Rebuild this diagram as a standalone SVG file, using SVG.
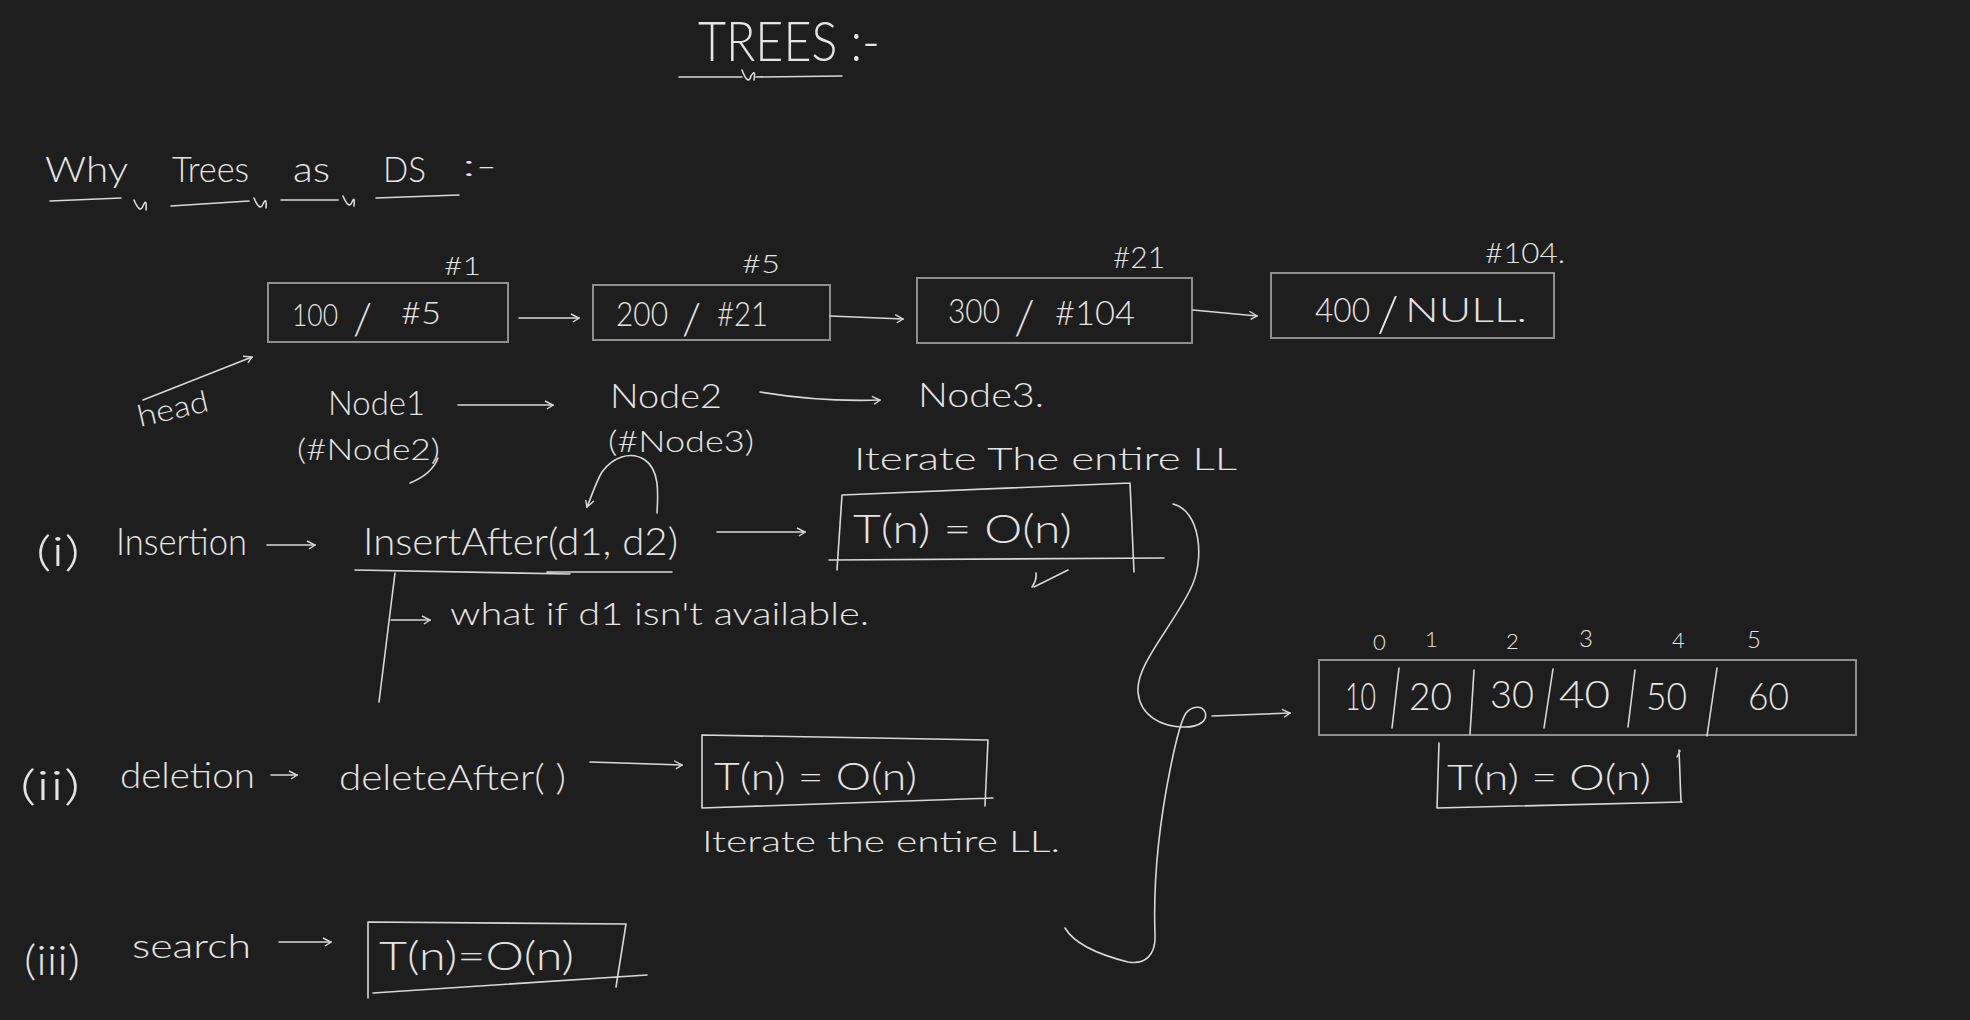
<svg xmlns="http://www.w3.org/2000/svg" width="1970" height="1020" viewBox="0 0 1970 1020">
<defs>
<style>
text{font-family:"Lato","Liberation Sans",sans-serif;font-weight:300;fill:#e4e4e4;}
.s{fill:none;stroke:#d8d8d8;stroke-width:1.6;stroke-linecap:round;stroke-linejoin:round;}
.bx{fill:none;stroke:#8f8f8f;stroke-width:2;}
.c{fill:none;stroke:#d8d8d8;stroke-width:1.6;stroke-linecap:round;marker-end:url(#ah);}
</style>
<marker id="ah" viewBox="0 0 10 10" refX="9" refY="5" markerWidth="10" markerHeight="10" markerUnits="userSpaceOnUse" orient="auto">
<path d="M1,1 L9,5 L3,9" fill="none" stroke="#d8d8d8" stroke-width="1.4"/>
</marker>
</defs>
<rect width="1970" height="1020" fill="#1f1e1e"/>

<g id="title">
<text x="698" y="61" font-size="56" textLength="182" lengthAdjust="spacingAndGlyphs">TREES :-</text>
<path class="s" d="M679,77 L742,77 M756,77 L842,76 M742,70 Q748,86 751,76 Q756,68 754,80"/>
</g>

<g id="why">
<text x="45" y="182" font-size="36" textLength="83" lengthAdjust="spacingAndGlyphs">Why</text>
<text x="172" y="182" font-size="36" textLength="77" lengthAdjust="spacingAndGlyphs">Trees</text>
<text x="293" y="182" font-size="36" textLength="37" lengthAdjust="spacingAndGlyphs">as</text>
<text x="383" y="182" font-size="36" textLength="43" lengthAdjust="spacingAndGlyphs">DS</text>
<text x="462" y="176" font-size="30" textLength="35" lengthAdjust="spacingAndGlyphs">:-</text>
<path class="s" d="M50,201 L121,198 M171,206 L249,201 M281,200 L338,200 M376,198 L459,195 M134,200 Q140,214 143,206 Q147,197 146,210 M254,198 Q260,212 263,204 Q267,196 266,208 M343,196 Q349,210 352,202 Q355,195 354,206"/>
</g>

<g id="ll-node1">
<rect class="bx" x="268" y="283" width="240" height="59"/>
<text x="292" y="326" font-size="31" textLength="46" lengthAdjust="spacingAndGlyphs">100</text>
<text x="353" y="334" font-size="44">/</text>
<text x="401" y="324" font-size="32" textLength="40" lengthAdjust="spacingAndGlyphs">#5</text>
<text x="444" y="275" font-size="26" textLength="37" lengthAdjust="spacingAndGlyphs">#1</text>
</g>
<g id="ll-node2">
<rect class="bx" x="593" y="285" width="237" height="55"/>
<text x="616" y="326" font-size="34" textLength="52" lengthAdjust="spacingAndGlyphs">200</text>
<text x="682" y="334" font-size="44">/</text>
<text x="717" y="326" font-size="34" textLength="51" lengthAdjust="spacingAndGlyphs">#21</text>
<text x="742" y="273" font-size="26" textLength="38" lengthAdjust="spacingAndGlyphs">#5</text>
</g>
<g id="ll-node3">
<rect class="bx" x="917" y="278" width="275" height="65"/>
<text x="948" y="323" font-size="34" textLength="52" lengthAdjust="spacingAndGlyphs">300</text>
<text x="1014" y="334" font-size="48">/</text>
<text x="1055" y="325" font-size="34" textLength="80" lengthAdjust="spacingAndGlyphs">#104</text>
<text x="1113" y="268" font-size="30" textLength="52" lengthAdjust="spacingAndGlyphs">#21</text>
</g>
<g id="ll-node4">
<rect class="bx" x="1271" y="273" width="283" height="65"/>
<text x="1315" y="322" font-size="34" textLength="55" lengthAdjust="spacingAndGlyphs">400</text>
<text x="1377" y="332" font-size="50">/</text>
<text x="1405" y="322" font-size="34" textLength="122" lengthAdjust="spacingAndGlyphs">NULL.</text>
<text x="1485" y="263" font-size="28" textLength="80" lengthAdjust="spacingAndGlyphs">#104.</text>
</g>

<g id="head">
<text transform="translate(140,427) rotate(-13)" font-size="30" textLength="72" lengthAdjust="spacingAndGlyphs">head</text>
</g>

<g id="node-labels">
<text x="328" y="415" font-size="34" textLength="97" lengthAdjust="spacingAndGlyphs">Node1</text>
<text x="297" y="460" font-size="30" textLength="143" lengthAdjust="spacingAndGlyphs">(#Node2)</text>
<path class="s" d="M438,458 Q432,474 410,483"/>
<text x="610" y="408" font-size="34" textLength="112" lengthAdjust="spacingAndGlyphs">Node2</text>
<text x="608" y="452" font-size="30" textLength="146" lengthAdjust="spacingAndGlyphs">(#Node3)</text>
<text x="918" y="407" font-size="34" textLength="126" lengthAdjust="spacingAndGlyphs">Node3.</text>
<text x="854" y="470" font-size="32" textLength="383" lengthAdjust="spacingAndGlyphs">Iterate The entire LL</text>
</g>

<g id="insertion">
<text x="36" y="566" font-size="42" textLength="44" lengthAdjust="spacingAndGlyphs">(i)</text>
<text x="116" y="555" font-size="38" textLength="131" lengthAdjust="spacingAndGlyphs">Insertion</text>
<text x="363" y="555" font-size="38" textLength="315" lengthAdjust="spacingAndGlyphs">InsertAfter(d1, d2)</text>
<path class="s" d="M355,570 Q460,572 570,574 M547,572 L672,572"/>
<text x="450" y="625" font-size="32" textLength="419" lengthAdjust="spacingAndGlyphs">what if d1 isn't available.</text>
</g>

<g id="insertion-cost">
<path class="s" d="M842,495 L1130,483 M842,495 L837,570 M1130,483 L1134,572 M829,560 L1164,558"/>
<text x="853" y="543" font-size="40" textLength="219" lengthAdjust="spacingAndGlyphs">T(n) = O(n)</text>
<path class="s" d="M1032,587 Q1037,580 1036,573 M1034,587 L1068,570"/>
</g>

<g id="deletion">
<text x="20" y="800" font-size="42" textLength="60" lengthAdjust="spacingAndGlyphs">(ii)</text>
<text x="120" y="788" font-size="36" textLength="135" lengthAdjust="spacingAndGlyphs">deletion</text>
<text x="339" y="790" font-size="36" textLength="227" lengthAdjust="spacingAndGlyphs">deleteAfter( )</text>
</g>
<g id="deletion-cost">
<path class="s" d="M702,735 L988,740 M702,735 L702,808 M988,740 L985,806 M702,808 L993,798"/>
<text x="714" y="790" font-size="38" textLength="203" lengthAdjust="spacingAndGlyphs">T(n) = O(n)</text>
<text x="702" y="852" font-size="30" textLength="358" lengthAdjust="spacingAndGlyphs">Iterate the entire LL.</text>
</g>

<g id="search">
<text x="24" y="975" font-size="42" textLength="56" lengthAdjust="spacingAndGlyphs">(iii)</text>
<text x="132" y="958" font-size="34" textLength="119" lengthAdjust="spacingAndGlyphs">search</text>
</g>
<g id="search-cost">
<path class="s" d="M368,922 L626,924 M368,922 L368,998 M626,924 L616,987 M373,993 L647,975"/>
<text x="379" y="970" font-size="40" textLength="195" lengthAdjust="spacingAndGlyphs">T(n)=O(n)</text>
</g>

<g id="array">
<rect class="bx" x="1319" y="660" width="537" height="75"/>
<path class="s" d="M1399,668 L1392,728 M1474,670 L1470,734 M1553,669 L1544,728 M1635,670 L1628,727 M1717,668 L1707,736"/>
<text x="1345" y="710" font-size="37" textLength="31" lengthAdjust="spacingAndGlyphs">10</text>
<text x="1409" y="710" font-size="37" textLength="43" lengthAdjust="spacingAndGlyphs">20</text>
<text x="1490" y="708" font-size="37" textLength="44" lengthAdjust="spacingAndGlyphs">30</text>
<text x="1559" y="708" font-size="37" textLength="51" lengthAdjust="spacingAndGlyphs">40</text>
<text x="1646" y="710" font-size="37" textLength="41" lengthAdjust="spacingAndGlyphs">50</text>
<text x="1748" y="710" font-size="37" textLength="41" lengthAdjust="spacingAndGlyphs">60</text>
<text x="1373" y="650" font-size="22">0</text>
<text x="1425" y="647" font-size="22">1</text>
<text x="1506" y="649" font-size="22">2</text>
<text x="1579" y="647" font-size="24">3</text>
<text x="1672" y="648" font-size="22">4</text>
<text x="1747" y="648" font-size="24">5</text>
</g>
<g id="array-cost">
<path class="s" d="M1439,743 L1437,808 L1682,802 M1679,750 L1681,802 M1680,751 L1677,757"/>
<text x="1447" y="790" font-size="36" textLength="204" lengthAdjust="spacingAndGlyphs">T(n) = O(n)</text>
</g>

<g id="connectors">
<path class="c" d="M519,318 L579,318"/>
<path class="c" d="M830,316 L903,319"/>
<path class="c" d="M1193,310 L1257,316"/>
<path class="c" d="M143,400 L252,357"/>
<path class="c" d="M458,405 L553,405"/>
<path class="c" d="M760,392 Q820,402 880,400"/>
<path class="c" d="M657,513 C658,495 660,470 645,460 C630,450 612,458 602,472 C596,482 592,495 587,507"/>
<path class="c" d="M267,545 L315,545"/>
<path class="c" d="M717,532 L805,532"/>
<path class="s" d="M395,573 L379,702"/>
<path class="c" d="M391,620 L430,620"/>
<path class="c" d="M271,775 L297,775"/>
<path class="c" d="M590,762 L682,765"/>
<path class="c" d="M279,942 L331,942"/>
<path class="s" d="M1173,504 C1200,510 1206,560 1190,590 C1170,630 1136,665 1138,692 C1140,715 1160,727 1185,727 C1200,727 1208,720 1205,712 C1202,705 1192,706 1186,713 C1180,722 1175,745 1170,770 C1158,830 1153,880 1155,935 C1156,955 1145,965 1128,962 C1100,955 1075,945 1065,928"/>
<path class="c" d="M1212,716 L1290,713"/>
</g>
</svg>
